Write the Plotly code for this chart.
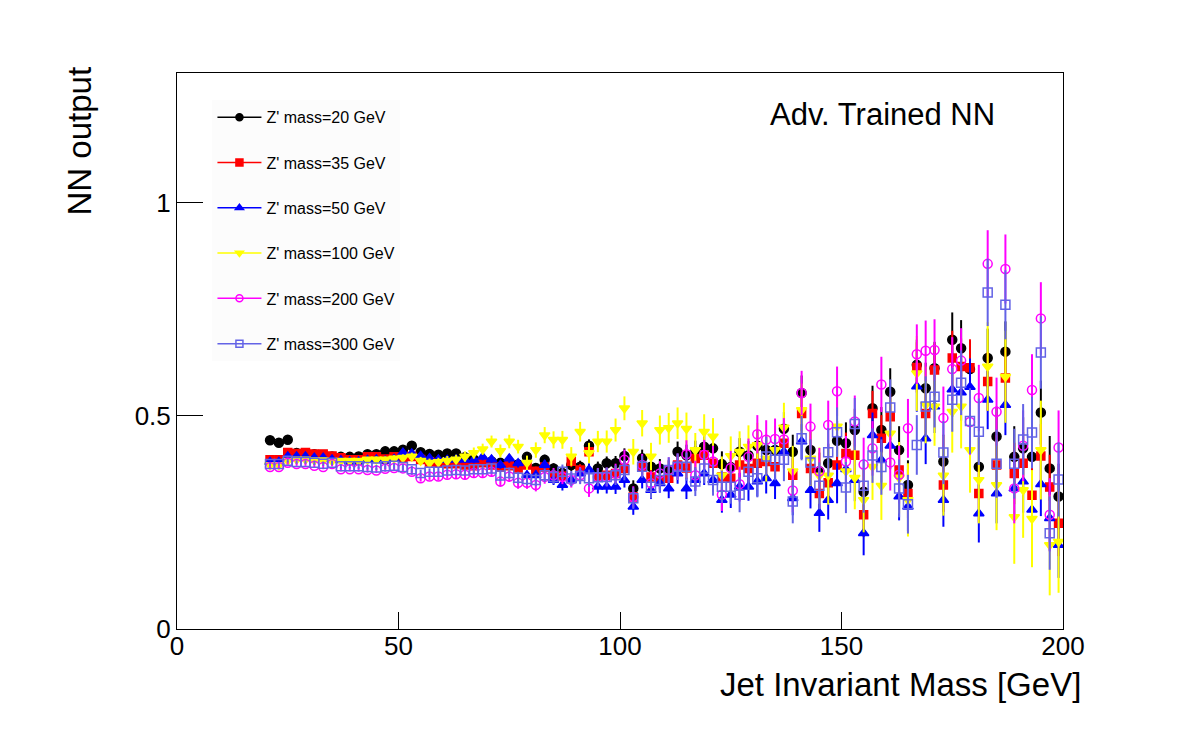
import plotly.graph_objects as go

mass = [21, 23, 25, 27, 29, 31, 33, 35, 37, 39,
        41, 43, 45, 47, 49, 51, 53, 55, 57, 59,
        61, 63, 65, 67, 69, 71, 73, 75, 77, 79,
        81, 83, 85, 87, 89, 91, 93, 95, 97, 99,
        101, 103, 105, 107, 109, 111, 113, 115, 117, 119,
        121, 123, 125, 127, 129, 131, 133, 135, 137, 139,
        141, 143, 145, 147, 149, 151, 153, 155, 157, 159,
        161, 163, 165, 167, 169, 171, 173, 175, 177, 179,
        181, 183, 185, 187, 189, 191, 193, 195, 197, 199]

nn_20 = [0.443, 0.437, 0.444, 0.413, 0.411, 0.410, 0.408, 0.405, 0.404, 0.404,
         0.405, 0.410, 0.410, 0.417, 0.417, 0.421, 0.430, 0.415, 0.411, 0.409,
         0.412, 0.412, 0.403, 0.398, 0.396, 0.393, 0.390, 0.388, 0.386, 0.404,
         0.378, 0.397, 0.377, 0.366, 0.385, 0.381, 0.430, 0.377, 0.389, 0.389,
         0.406, 0.330, 0.401, 0.381, 0.377, 0.373, 0.416, 0.408, 0.416, 0.428,
         0.424, 0.387, 0.380, 0.416, 0.408, 0.430, 0.420, 0.420, 0.470, 0.416,
         0.554, 0.420, 0.370, 0.389, 0.442, 0.436, 0.467, 0.322, 0.518, 0.467,
         0.557, 0.420, 0.338, 0.620, 0.565, 0.612, 0.393, 0.679, 0.659, 0.610,
         0.381, 0.636, 0.452, 0.651, 0.404, 0.424, 0.404, 0.508, 0.377, 0.311]

nn_35 = [0.397, 0.397, 0.414, 0.412, 0.414, 0.411, 0.411, 0.406, 0.402, 0.397,
         0.397, 0.404, 0.404, 0.399, 0.404, 0.400, 0.405, 0.398, 0.392, 0.390,
         0.388, 0.388, 0.385, 0.383, 0.390, 0.385, 0.380, 0.383, 0.378, 0.385,
         0.370, 0.380, 0.357, 0.359, 0.394, 0.373, 0.416, 0.357, 0.361, 0.365,
         0.377, 0.310, 0.381, 0.357, 0.350, 0.354, 0.385, 0.378, 0.400, 0.408,
         0.389, 0.357, 0.354, 0.385, 0.377, 0.389, 0.393, 0.381, 0.436, 0.361,
         0.506, 0.377, 0.318, 0.343, 0.385, 0.412, 0.408, 0.268, 0.506, 0.448,
         0.498, 0.373, 0.318, 0.614, 0.506, 0.608, 0.338, 0.636, 0.616, 0.613,
         0.318, 0.581, 0.385, 0.589, 0.365, 0.389, 0.314, 0.406, 0.333, 0.248]

nn_50 = [0.392, 0.392, 0.405, 0.405, 0.405, 0.402, 0.402, 0.398, 0.396, 0.393,
         0.393, 0.397, 0.398, 0.395, 0.399, 0.414, 0.412, 0.406, 0.401, 0.398,
         0.397, 0.398, 0.397, 0.397, 0.404, 0.398, 0.385, 0.400, 0.389, 0.361,
         0.361, 0.385, 0.350, 0.338, 0.350, 0.365, 0.374, 0.334, 0.334, 0.334,
         0.350, 0.287, 0.350, 0.326, 0.342, 0.330, 0.365, 0.330, 0.350, 0.365,
         0.350, 0.303, 0.315, 0.334, 0.334, 0.346, 0.354, 0.342, 0.416, 0.307,
         0.440, 0.326, 0.272, 0.303, 0.342, 0.375, 0.350, 0.225, 0.455, 0.397,
         0.430, 0.311, 0.287, 0.569, 0.447, 0.522, 0.303, 0.562, 0.555, 0.568,
         0.271, 0.538, 0.318, 0.526, 0.330, 0.346, 0.280, 0.340, 0.260, 0.197]

nn_100 = [0.385, 0.385, 0.395, 0.398, 0.398, 0.396, 0.396, 0.394, 0.395, 0.395,
          0.395, 0.398, 0.398, 0.398, 0.400, 0.402, 0.405, 0.395, 0.390, 0.392,
          0.395, 0.398, 0.405, 0.413, 0.422, 0.440, 0.418, 0.440, 0.428, 0.390,
          0.420, 0.455, 0.444, 0.444, 0.405, 0.463, 0.413, 0.440, 0.440, 0.467,
          0.518, 0.416, 0.483, 0.405, 0.467, 0.472, 0.483, 0.470, 0.420, 0.463,
          0.452, 0.360, 0.406, 0.416, 0.428, 0.432, 0.400, 0.420, 0.473, 0.370,
          0.514, 0.400, 0.360, 0.360, 0.475, 0.370, 0.355, 0.303, 0.381, 0.336,
          0.459, 0.355, 0.303, 0.600, 0.526, 0.522, 0.360, 0.510, 0.522, 0.420,
          0.350, 0.616, 0.338, 0.592, 0.263, 0.326, 0.259, 0.420, 0.197, 0.205]

nn_200 = [0.380, 0.380, 0.390, 0.387, 0.387, 0.383, 0.380, 0.387, 0.375, 0.375,
          0.375, 0.373, 0.372, 0.376, 0.378, 0.377, 0.369, 0.354, 0.358, 0.358,
          0.362, 0.363, 0.362, 0.366, 0.366, 0.369, 0.346, 0.358, 0.343, 0.343,
          0.338, 0.357, 0.361, 0.357, 0.350, 0.361, 0.330, 0.357, 0.357, 0.365,
          0.397, 0.310, 0.385, 0.342, 0.365, 0.373, 0.381, 0.410, 0.361, 0.409,
          0.393, 0.315, 0.378, 0.340, 0.404, 0.457, 0.444, 0.446, 0.445, 0.325,
          0.554, 0.475, 0.370, 0.479, 0.558, 0.393, 0.487, 0.386, 0.424, 0.574,
          0.391, 0.362, 0.471, 0.645, 0.653, 0.655, 0.495, 0.610, 0.630, 0.486,
          0.542, 0.857, 0.510, 0.845, 0.330, 0.430, 0.561, 0.729, 0.268, 0.426]

nn_300 = [0.387, 0.387, 0.395, 0.392, 0.392, 0.390, 0.388, 0.390, 0.382, 0.382,
          0.382, 0.380, 0.379, 0.382, 0.383, 0.380, 0.375, 0.366, 0.369, 0.369,
          0.372, 0.373, 0.372, 0.375, 0.375, 0.377, 0.360, 0.366, 0.355, 0.352,
          0.350, 0.361, 0.357, 0.369, 0.353, 0.359, 0.354, 0.356, 0.357, 0.361,
          0.373, 0.307, 0.381, 0.334, 0.350, 0.373, 0.381, 0.381, 0.346, 0.377,
          0.350, 0.334, 0.334, 0.315, 0.369, 0.354, 0.405, 0.397, 0.397, 0.299,
          0.448, 0.391, 0.336, 0.415, 0.462, 0.332, 0.481, 0.336, 0.407, 0.380,
          0.520, 0.330, 0.293, 0.432, 0.522, 0.545, 0.414, 0.538, 0.578, 0.488,
          0.463, 0.790, 0.388, 0.761, 0.388, 0.445, 0.461, 0.649, 0.225, 0.351]

# statistical uncertainties
err_low = [0.003, 0.003, 0.003, 0.003, 0.003, 0.003, 0.004, 0.004, 0.004, 0.004,
           0.004, 0.004, 0.005, 0.005, 0.005, 0.005, 0.006, 0.006, 0.006, 0.006,
           0.007, 0.007, 0.007, 0.008, 0.008, 0.009, 0.009, 0.010, 0.010, 0.011,
           0.011, 0.012, 0.012, 0.013, 0.014, 0.014, 0.015, 0.016, 0.016, 0.017,
           0.018, 0.019, 0.020, 0.021, 0.022, 0.023, 0.024, 0.025, 0.026, 0.027,
           0.028, 0.030, 0.031, 0.032, 0.033, 0.035, 0.036, 0.037, 0.039, 0.040,
           0.041, 0.043, 0.044, 0.046, 0.047, 0.049, 0.050, 0.052, 0.053, 0.054,
           0.055, 0.056, 0.058, 0.059, 0.060, 0.062, 0.063, 0.064, 0.066, 0.067,
           0.068, 0.069, 0.070, 0.071, 0.072, 0.073, 0.074, 0.075, 0.076, 0.077]

err_100 = [0.004, 0.004, 0.004, 0.004, 0.005, 0.005, 0.005, 0.005, 0.006, 0.006,
           0.006, 0.006, 0.007, 0.007, 0.008, 0.008, 0.009, 0.009, 0.010, 0.010,
           0.011, 0.011, 0.012, 0.013, 0.013, 0.014, 0.015, 0.016, 0.016, 0.017,
           0.018, 0.019, 0.020, 0.021, 0.022, 0.023, 0.024, 0.025, 0.026, 0.027,
           0.028, 0.030, 0.031, 0.032, 0.034, 0.035, 0.037, 0.038, 0.040, 0.041,
           0.043, 0.045, 0.046, 0.048, 0.050, 0.052, 0.054, 0.056, 0.058, 0.060,
           0.062, 0.064, 0.066, 0.068, 0.070, 0.072, 0.074, 0.076, 0.078, 0.080,
           0.082, 0.084, 0.086, 0.088, 0.090, 0.092, 0.094, 0.096, 0.098, 0.100,
           0.102, 0.104, 0.106, 0.108, 0.110, 0.112, 0.114, 0.116, 0.118, 0.120]

err_high = [0.004, 0.004, 0.004, 0.004, 0.004, 0.005, 0.005, 0.005, 0.005, 0.005,
            0.006, 0.006, 0.006, 0.007, 0.007, 0.007, 0.008, 0.008, 0.008, 0.009,
            0.009, 0.010, 0.010, 0.011, 0.011, 0.012, 0.012, 0.013, 0.014, 0.014,
            0.015, 0.016, 0.017, 0.017, 0.018, 0.019, 0.020, 0.021, 0.022, 0.023,
            0.024, 0.025, 0.026, 0.028, 0.029, 0.030, 0.031, 0.033, 0.034, 0.035,
            0.037, 0.038, 0.040, 0.041, 0.043, 0.045, 0.046, 0.048, 0.050, 0.051,
            0.052, 0.054, 0.055, 0.057, 0.058, 0.060, 0.061, 0.063, 0.064, 0.065,
            0.066, 0.068, 0.069, 0.070, 0.071, 0.072, 0.074, 0.075, 0.076, 0.077,
            0.078, 0.079, 0.080, 0.081, 0.082, 0.083, 0.084, 0.085, 0.086, 0.087]

labels = ["Z' mass=20 GeV", "Z' mass=35 GeV", "Z' mass=50 GeV",
          "Z' mass=100 GeV", "Z' mass=200 GeV", "Z' mass=300 GeV"]

series = [
    (nn_20, err_low, "#000000", "circle", 9, 7),
    (nn_35, err_low, "#ff0000", "square", 8, 7),
    (nn_50, err_low, "#0000ff", "triangle-up", 9, 7),
    (nn_100, err_100, "#ffff00", "triangle-down", 9, 7),
    (nn_200, err_high, "#ff00ff", "circle-open", 9, 7),
    (nn_300, err_high, "#6363e6", "square-open", 9, 7),
]

FONT = "Liberation Sans, Arial, Helvetica, sans-serif"

fig = go.Figure()
for i, (vals, errs, col, sym, sz, lsz) in enumerate(series):
    fig.add_trace(go.Scatter(
        x=mass, y=vals, mode="markers", showlegend=False,
        marker=dict(color=col, symbol=sym, size=sz,
                    line=dict(color=col, width=1.5)),
        error_y=dict(type="data", array=errs, visible=True,
                     color=col, thickness=2, width=0),
        hoverinfo="x+y",
    ))

for i, (vals, errs, col, sym, sz, lsz) in enumerate(series):
    fig.add_trace(go.Scatter(
        x=[None], y=[None], mode="lines+markers", name=labels[i],
        legendgroup="g%d" % i, legendrank=i + 1,
        line=dict(color=col, width=1.5),
        marker=dict(color=col, symbol=sym, size=lsz,
                    line=dict(color=col, width=1.5)),
    ))

fig.update_layout(
    width=1182, height=740,
    margin=dict(l=177, r=119, t=73, b=111),
    paper_bgcolor="white", plot_bgcolor="white",
    font=dict(family=FONT, color="black"),
    showlegend=True,
    legend=dict(
        x=0.04, y=0.951, xanchor="left", yanchor="top",
        bgcolor="#fcfcfc", borderwidth=0,
        font=dict(family=FONT, size=16, color="black"),
        traceorder="grouped", tracegroupgap=21.5,
        itemwidth=44, itemsizing="trace",
    ),
    xaxis=dict(
        range=[0, 200], tickvals=[0, 50, 100, 150, 200],
        ticktext=["0", "50", "100", "150", "200"],
        ticks="inside", ticklen=17, tickwidth=1, tickcolor="black",
        showline=True, linecolor="black", linewidth=1, mirror=True,
        showgrid=False, zeroline=False, ticklabelstandoff=-6,
        tickfont=dict(family=FONT, size=26, color="black"),
    ),
    yaxis=dict(
        range=[0, 1.305], tickvals=[0, 0.5, 1],
        ticktext=["0", "0.5", "1"],
        ticks="inside", ticklen=26, tickwidth=1, tickcolor="black",
        showline=True, linecolor="black", linewidth=1, mirror=True,
        showgrid=False, zeroline=False,
        tickfont=dict(family=FONT, size=26, color="black"),
    ),
    annotations=[
        dict(text="Jet Invariant Mass [GeV]", xref="paper", yref="paper",
             x=1.0226, y=-0.1007, xanchor="right", yanchor="middle",
             showarrow=False, font=dict(family=FONT, size=33, color="black")),
        dict(text="NN output", xref="paper", yref="paper",
             x=-0.1106, y=1.0144, xanchor="center", yanchor="top",
             textangle=-90, showarrow=False,
             font=dict(family=FONT, size=33, color="black")),
        dict(text="Adv. Trained NN", xref="paper", yref="paper",
             x=0.667, y=0.9245, xanchor="left", yanchor="middle",
             showarrow=False, font=dict(family=FONT, size=31, color="black")),
    ],
)

fig.write_html("out.html")
